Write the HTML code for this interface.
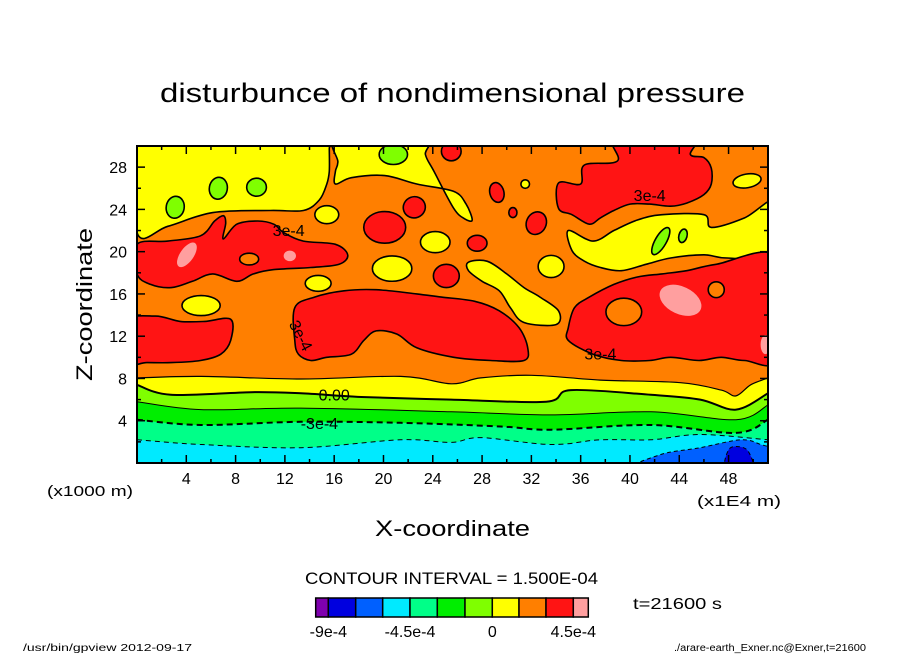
<!DOCTYPE html>
<html><head><meta charset="utf-8"><style>
html,body{margin:0;padding:0;background:#fff;}
svg{display:block;font-family:"Liberation Sans","DejaVu Sans",sans-serif;}
</style></head><body>
<svg id="chart" width="904" height="654" viewBox="0 0 904 654" xmlns="http://www.w3.org/2000/svg">
<defs><clipPath id="plotclip"><rect x="137" y="146" width="631" height="317"/></clipPath></defs>
<text x="160" y="102" font-size="27" textLength="585" lengthAdjust="spacingAndGlyphs">disturbunce of nondimensional pressure</text>
<g id="plot" clip-path="url(#plotclip)"></g>
<g id="axes"></g>
<text transform="translate(92,381) rotate(-90)" font-size="22" textLength="153" lengthAdjust="spacingAndGlyphs">Z-coordinate</text>
<text x="375" y="536" font-size="22" textLength="155" lengthAdjust="spacingAndGlyphs">X-coordinate</text>
<text x="47" y="496" font-size="15" textLength="86" lengthAdjust="spacingAndGlyphs">(x1000 m)</text>
<text x="697" y="506" font-size="15" textLength="84" lengthAdjust="spacingAndGlyphs">(x1E4 m)</text>
<text x="305" y="584" font-size="17" textLength="293" lengthAdjust="spacingAndGlyphs">CONTOUR INTERVAL = 1.500E-04</text>
<text x="633" y="609" font-size="16" textLength="89" lengthAdjust="spacingAndGlyphs">t=21600 s</text>
<g id="cbar"></g>
<text x="23" y="651" font-size="10" textLength="169" lengthAdjust="spacingAndGlyphs">/usr/bin/gpview  2012-09-17</text>
<text x="674" y="651" font-size="10" textLength="192" lengthAdjust="spacingAndGlyphs">./arare-earth_Exner.nc@Exner,t=21600</text>
</svg>
<script>
const NS="http://www.w3.org/2000/svg";
const levelColors=['#7f00af','#0000df','#0060ff','#00eaff','#00ff88','#00ee00','#7fff00','#ffff00','#ff7f00','#ff1414','#ff9f9f'];
const levelBounds=['-9e-4','','','-4.5e-4','','','0','','','4.5e-4'];
const xTicks=[4,8,12,16,20,24,28,32,36,40,44,48];
const zTicks=[4,8,12,16,20,24,28];
const xMax=51.2, zMax=30;
const band1=[[0,8.05],[5.2,8.2],[13.3,7.95],[21.4,8.2],[25.5,7.5],[27.9,8.05],[32.0,8.3],[37.6,7.85],[44.1,7.6],[47.4,6.9],[48.6,6.35],[49.8,7.4],[51.2,8.05]];
const band2=[[0,7.4],[2.75,6.45],[9.25,6.7],[13.3,6.6],[18.2,6.25],[25.5,6.0],[33.2,5.8],[35.2,6.9],[41.7,6.45],[45.7,6.0],[48.6,5.05],[51.2,6.6]];
const band3=[[0,5.8],[5.2,5.05],[13.3,5.2],[25.5,4.85],[33.6,4.55],[41.7,4.85],[48.6,4.1],[51.2,5.5]];
const band4=[[0,4.1],[5.2,3.6],[13.3,3.9],[21.4,3.8],[29.5,3.45],[33.6,3.15],[41.7,3.6],[48.6,2.85],[51.2,4.1]];
const band5=[[0,2.2],[5.2,1.75],[13.3,1.45],[21.4,2.2],[25.5,1.95],[27.9,2.4],[33.6,1.75],[37.6,2.2],[41.7,2.2],[45.7,2.7],[51.2,2.2]];
const bands=[[band1,7,1.2,''],[band2,6,2,''],[band3,5,1,''],[band4,4,2,'6,4'],[band5,3,1,'5,4']];
const yellowTL=[[0,21.8],[2.5,22.4],[6.15,23.7],[10.8,23.9],[13.5,23.9],[14.8,24.9],[15.4,26.4],[15.6,27.6],[15.6,29.8],[15.6,31],[0,31]];
const yellowTM=[[16.3,31],[16.3,28.5],[16.1,27.6],[16.1,26.4],[17.4,27.0],[20.1,27.2],[22.7,26.4],[25.7,25.7],[26.7,24.5],[27.2,23.0],[26.6,23.1],[25.7,24.1],[24.1,27.6],[23.4,29.2],[23.4,31]];
const redLeft=[[0,20.7],[2.5,21.0],[5.15,21.5],[6.3,22.9],[7.0,23.4],[7.2,22.7],[7.0,21.2],[8.1,22.6],[9.8,22.9],[11.1,22.6],[11.9,21.8],[13.5,21.0],[16.1,20.7],[17.1,19.7],[16.4,18.8],[14.1,18.5],[11.1,18.3],[9.45,17.9],[8.1,17.2],[6.15,17.9],[4.5,17.2],[2.8,16.6],[1.1,16.9],[0,17.9]];
const yellowDiag=[[26.9,19.0],[28.4,19.1],[30.0,17.9],[31.4,16.6],[32.7,15.7],[34.2,14.4],[34.0,13.1],[31.4,13.3],[30.3,14.7],[29.4,16.3],[28.0,17.2],[26.9,18.2]];
const redTR=[[38.8,31],[39.0,28.6],[36.3,28.2],[36.0,26.4],[34.2,26.5],[34.2,24.1],[35.3,23.5],[36.7,22.6],[37.6,23.2],[38.7,23.9],[40.0,24.5],[41.6,24.5],[43.3,24.3],[44.6,24.6],[46.0,25.4],[46.6,26.4],[46.6,27.9],[46.0,28.9],[44.9,29.2],[45.1,31]];
const yellowR=[[52,24.9],[49.3,23.2],[46.6,22.3],[46.0,23.5],[42.6,23.5],[40.6,23.0],[38.7,22.0],[37.0,21.0],[35.0,22.0],[35.3,20.1],[36.3,19.1],[37.6,18.5],[39.3,18.2],[41.3,18.8],[43.3,19.4],[46.0,19.7],[47.9,19.4],[52,19.7]];
const redCenter=[[12.8,14.7],[14.4,15.7],[16.8,16.3],[19.4,16.4],[22.7,16.0],[24.7,15.7],[27.4,15.3],[29.4,14.4],[31.0,12.8],[31.7,10.9],[31.4,9.7],[28.7,9.7],[25.7,10.0],[22.7,10.9],[21.1,12.2],[19.4,12.5],[18.4,11.6],[17.4,10.3],[15.4,10.0],[14.1,9.7],[13.1,10.3],[12.8,11.6]];
const redLL=[[-1,13.4],[1.5,13.9],[3.5,13.4],[5.5,13.4],[7.6,13.6],[7.6,11.6],[6.8,10.3],[5.15,9.7],[2.8,9.5],[0.8,9.5],[-1,9.5]];
const redLR=[[35.0,12.8],[35.5,14.7],[36.7,15.7],[38.7,16.9],[40.6,17.6],[42.6,17.9],[44.6,18.2],[47.0,18.8],[52,19.4],[52,10.0],[49.3,9.7],[47.4,10.0],[45.6,9.7],[43.3,10.0],[41.6,9.7],[39.3,9.7],[37.0,10.3],[35.0,11.6]];
const blueBlob=[[40.9,-0.5],[42.5,0.8],[45.7,1.45],[49,2.2],[50.6,1.75],[51.5,1.25],[51.5,-0.5]];
const darkBlueBlob=[[47.8,-0.5],[48,1.25],[48.8,1.55],[49.6,1.1],[49.9,-0.5]];
const regions=[[yellowTL,7],[yellowTM,7],[yellowR,7],[redLeft,9],[yellowDiag,7],[redTR,9],[redCenter,9],[redLL,9],[redLR,9]];
const blobs=[
 [6.6,26.0,0.73,1.04,10,6],[3.1,24.2,0.73,1.04,10,6],[9.7,26.1,0.8,0.85,0,6],[20.8,29.2,1.15,0.95,0,6],
 [9.1,19.3,0.77,0.56,0,8],[4.05,19.7,0.55,1.35,35,10],[12.4,19.6,0.5,0.5,0,10],
 [15.4,23.5,0.97,0.85,0,7],[24.2,20.9,1.2,1.0,0,7],[20.7,18.4,1.6,1.2,0,7],[14.7,17.0,1.05,0.75,0,7],[5.2,14.9,1.55,0.95,0,7],[33.6,18.6,1.05,1.05,0,7],[49.5,26.7,1.15,0.65,-10,7],[31.5,26.4,0.35,0.4,0,7],
 [20.1,22.3,1.7,1.5,0,9],[22.5,24.2,0.9,1.0,-20,9],[27.6,20.8,0.8,0.75,0,9],[25.1,17.7,1.05,1.1,0,9],[29.2,25.6,0.57,0.95,-15,9],[30.5,23.7,0.33,0.47,0,9],[32.4,22.7,0.8,1.1,25,9],[25.5,29.5,0.8,0.9,0,9],
 [42.5,21.0,0.45,1.45,30,6],[44.3,21.5,0.33,0.65,15,6],
 [39.5,14.3,1.45,1.3,0,8],[47.0,16.4,0.65,0.75,0,8],[44.1,15.4,1.8,1.3,25,10],[51.0,11.2,0.4,0.9,0,10]
];
const labels=[['0.00',16.0,6.3,0],['-3e-4',14.8,3.6,0],['3e-4',12.3,21.9,0],['3e-4',37.6,10.2,0],['3e-4',41.6,25.2,0],['3e-4',13.2,12.0,62]];

const sx=x=>137+x/xMax*631;
const sz=z=>463-z/zMax*317;
const plot=document.getElementById('plot');
const axes=document.getElementById('axes');
function mk(tag,attrs,parent){const e=document.createElementNS(NS,tag);for(const k in attrs)e.setAttribute(k,attrs[k]);parent.appendChild(e);return e;}
function crPath(pts,closed){
 const p=pts.map(q=>[sx(q[0]),sz(q[1])]);const n=p.length;let d='M'+p[0][0].toFixed(1)+','+p[0][1].toFixed(1);
 const g=i=>closed?p[(i+n)%n]:p[Math.max(0,Math.min(n-1,i))];
 const m=closed?n:n-1;
 for(let i=0;i<m;i++){const p0=g(i-1),p1=g(i),p2=g(i+1),p3=g(i+2);
  const c1=[p1[0]+(p2[0]-p0[0])/6,p1[1]+(p2[1]-p0[1])/6],c2=[p2[0]-(p3[0]-p1[0])/6,p2[1]-(p3[1]-p1[1])/6];
  d+='C'+c1[0].toFixed(1)+','+c1[1].toFixed(1)+' '+c2[0].toFixed(1)+','+c2[1].toFixed(1)+' '+p2[0].toFixed(1)+','+p2[1].toFixed(1);}
 return d+(closed?'Z':'');
}
const bg=mk('rect',{x:137,y:146,width:631,height:317,fill:levelColors[8]},plot);


regions.forEach((r,i)=>{
 const e=mk('path',{d:crPath(r[0],true),fill:levelColors[r[1]],stroke:'#000','stroke-width':1.6},plot);
 
 
});
blobs.forEach((b,i)=>{
 const e=mk('ellipse',{cx:sx(b[0]),cy:sz(b[1]),rx:b[2]/xMax*631,ry:b[3]/zMax*317,transform:'rotate('+b[4]+' '+sx(b[0])+' '+sz(b[1])+')',fill:levelColors[b[5]],stroke:'#000','stroke-width':b[5]==10?0:1.6},plot);
 
 
});
bands.forEach((b,i)=>{
 const line=crPath(b[0],false);
 const f=mk('path',{d:line+'L'+sx(52)+','+sz(-1)+'L'+sx(-1)+','+sz(-1)+'Z',fill:levelColors[b[1]]},plot);
 
 
 const l=mk('path',{d:line,fill:'none',stroke:'#000','stroke-width':b[2],'stroke-dasharray':b[3]},plot);
 
 
});
[[blueBlob,2],[darkBlueBlob,1]].forEach((b,i)=>{
 const e=mk('path',{d:crPath(b[0],true),fill:levelColors[b[1]],stroke:'#000','stroke-width':1,'stroke-dasharray':'4,3'},plot);
 
 
});
labels.forEach((L,i)=>{
 const t=mk('text',{x:sx(L[1]),y:sz(L[2]),'font-size':16,'text-anchor':'middle','dominant-baseline':'middle',transform:'rotate('+L[3]+' '+sx(L[1])+' '+sz(L[2])+')'},plot);
 t.textContent=L[0];
 
 
});
const fr=mk('rect',{x:137,y:146,width:631,height:317,fill:'none',stroke:'#000','stroke-width':2},axes);


for(let v=2;v<xMax;v+=2){const L=v%4==0?8:4;
 mk('line',{x1:sx(v),x2:sx(v),y1:463,y2:463-L,stroke:'#000','stroke-width':1.5},axes);
 mk('line',{x1:sx(v),x2:sx(v),y1:146,y2:146+L,stroke:'#000','stroke-width':1.5},axes);}
for(let v=2;v<zMax;v+=2){const L=v%4==0?8:4;
 mk('line',{x1:137,x2:137+L,y1:sz(v),y2:sz(v),stroke:'#000','stroke-width':1.5},axes);
 mk('line',{x1:768,x2:768-L,y1:sz(v),y2:sz(v),stroke:'#000','stroke-width':1.5},axes);}
xTicks.forEach(v=>{const t=mk('text',{x:sx(v),y:484,'font-size':16,'text-anchor':'middle'},axes);t.textContent=v;
 
 });
zTicks.forEach(v=>{const t=mk('text',{x:127,y:sz(v)+6,'font-size':16,'text-anchor':'end'},axes);t.textContent=v;
 
 });
const cb=document.getElementById('cbar');
const cbEdges=[315.7,328.3,355.7,382.7,410,437.3,465,492.3,519,546,573.3,588.3];
levelColors.forEach((c,i)=>{const r=mk('rect',{x:cbEdges[i],y:598,width:cbEdges[i+1]-cbEdges[i],height:19,fill:c,stroke:'#000','stroke-width':1.5},cb);
 
 });
levelBounds.forEach((s,i)=>{if(!s)return;const t=mk('text',{x:cbEdges[i+1],y:637,'font-size':16,'text-anchor':'middle'},cb);t.textContent=s;
 
 });
</script>
</body></html>
